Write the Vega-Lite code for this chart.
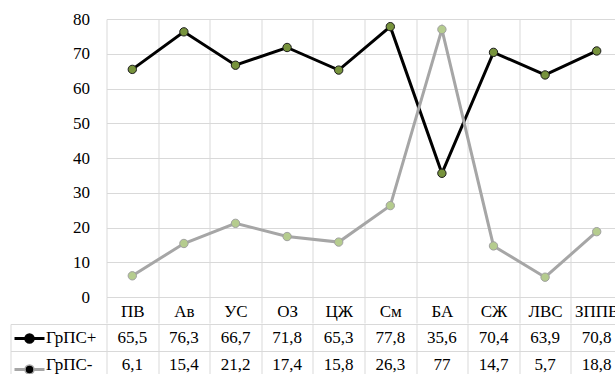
{
  "$schema": "https://vega.github.io/schema/vega-lite/v6.json",
  "padding": {"left": 9.5, "top": 10, "right": 0, "bottom": 0},
  "config": {
    "view": {"stroke": null},
    "font": "'Liberation Serif', serif",
    "locale": {"number": {"decimal": ",", "thousands": " ", "grouping": [3], "currency": ["", ""]}}
  },
  "data": {
    "values": [
      {"cat": "ПВ", "series": "ГрПС+", "value": 65.5},
      {"cat": "Ав", "series": "ГрПС+", "value": 76.3},
      {"cat": "УС", "series": "ГрПС+", "value": 66.7},
      {"cat": "ОЗ", "series": "ГрПС+", "value": 71.8},
      {"cat": "ЦЖ", "series": "ГрПС+", "value": 65.3},
      {"cat": "См", "series": "ГрПС+", "value": 77.8},
      {"cat": "БА", "series": "ГрПС+", "value": 35.6},
      {"cat": "СЖ", "series": "ГрПС+", "value": 70.4},
      {"cat": "ЛВС", "series": "ГрПС+", "value": 63.9},
      {"cat": "ЗППВ", "series": "ГрПС+", "value": 70.8},
      {"cat": "ПВ", "series": "ГрПС-", "value": 6.1},
      {"cat": "Ав", "series": "ГрПС-", "value": 15.4},
      {"cat": "УС", "series": "ГрПС-", "value": 21.2},
      {"cat": "ОЗ", "series": "ГрПС-", "value": 17.4},
      {"cat": "ЦЖ", "series": "ГрПС-", "value": 15.8},
      {"cat": "См", "series": "ГрПС-", "value": 26.3},
      {"cat": "БА", "series": "ГрПС-", "value": 77},
      {"cat": "СЖ", "series": "ГрПС-", "value": 14.7},
      {"cat": "ЛВС", "series": "ГрПС-", "value": 5.7},
      {"cat": "ЗППВ", "series": "ГрПС-", "value": 18.8}
    ]
  },
  "spacing": -10,
  "resolve": {
    "scale": {"color": "independent", "stroke": "independent", "fill": "independent"},
    "legend": {"color": "independent", "stroke": "independent", "fill": "independent"}
  },
  "vconcat": [
    {
      "width": 516,
      "height": 278,
      "encoding": {
        "x": {
          "field": "cat", "type": "nominal",
          "sort": ["ПВ", "Ав", "УС", "ОЗ", "ЦЖ", "См", "БА", "СЖ", "ЛВС", "ЗППВ"],
          "bandPosition": 0.5,
          "scale": {"type": "band", "paddingInner": 0, "paddingOuter": 0},
          "axis": {
            "title": null, "grid": true, "gridColor": "#d9d9d9", "gridWidth": 1,
            "tickBand": "extent", "ticks": true, "tickSize": 26, "tickColor": "#d9d9d9",
            "domain": false, "labelAngle": 0, "labelFont": "'Liberation Serif', serif",
            "labelFontSize": 17, "labelColor": "#000000", "labelBaseline": "middle",
            "labelPadding": -12
          }
        },
        "y": {
          "field": "value", "type": "quantitative",
          "scale": {"domain": [0, 80], "nice": false},
          "axis": {
            "title": null, "values": [0, 10, 20, 30, 40, 50, 60, 70, 80],
            "grid": true, "gridColor": "#d9d9d9", "domain": false, "ticks": false,
            "labelPadding": 17, "labelFlush": false, "labelFont": "'Liberation Serif', serif",
            "labelFontSize": 17, "labelColor": "#000000"
          }
        }
      },
      "layer": [
        {
          "mark": {"type": "line", "strokeWidth": 3},
          "encoding": {
            "color": {
              "field": "series", "type": "nominal",
              "scale": {"domain": ["ГрПС+", "ГрПС-"], "range": ["#000000", "#a6a6a6"]},
              "legend": null
            }
          }
        },
        {
          "mark": {"type": "point", "filled": true, "size": 70, "strokeWidth": 1, "opacity": 1},
          "encoding": {
            "fill": {
              "field": "series", "type": "nominal",
              "scale": {"domain": ["ГрПС+", "ГрПС-"], "range": ["#77933c", "#b5cc8e"]},
              "legend": null
            },
            "stroke": {
              "field": "series", "type": "nominal",
              "scale": {"domain": ["ГрПС+", "ГрПС-"], "range": ["#1a1a1a", "#a0a0a0"]},
              "legend": null
            }
          }
        }
      ]
    },
    {
      "width": 516,
      "height": 54,
      "mark": {"type": "text", "fontSize": 17, "font": "'Liberation Serif', serif", "baseline": "middle", "color": "#000000", "strokeWidth": 0},
      "encoding": {
        "x": {
          "field": "cat", "type": "nominal",
          "sort": ["ПВ", "Ав", "УС", "ОЗ", "ЦЖ", "См", "БА", "СЖ", "ЛВС", "ЗППВ"],
          "bandPosition": 0.5,
          "scale": {"type": "band", "paddingInner": 0, "paddingOuter": 0},
          "axis": {
            "title": null, "grid": true, "gridColor": "#d9d9d9", "tickBand": "extent",
            "labels": false, "ticks": false, "domain": false
          }
        },
        "y": {
          "field": "series", "type": "nominal",
          "sort": ["ГрПС+", "ГрПС-"],
          "bandPosition": 0.5,
          "scale": {"type": "band", "paddingInner": 0, "paddingOuter": 0},
          "axis": {
            "title": null, "grid": true, "gridColor": "#d9d9d9", "tickBand": "extent",
            "offset": 96, "domain": true, "domainColor": "#d9d9d9",
            "ticks": true, "tickSize": -96, "tickColor": "#d9d9d9",
            "labelAlign": "left", "labelPadding": 61, "labelBaseline": "middle",
            "labelFont": "'Liberation Serif', serif", "labelFontSize": 17, "labelColor": "#000000"
          }
        },
        "text": {"field": "value", "type": "quantitative", "format": ".1~f"},
        "stroke": {
          "field": "series", "type": "nominal",
          "scale": {"domain": ["ГрПС+", "ГрПС-"], "range": ["#000000", "#a6a6a6"]},
          "legend": {
            "orient": "none", "legendX": -83, "legendY": 8.5, "title": null,
            "padding": 0, "labelExpr": "''", "labelFontSize": 1,
            "symbolType": "M-3,-0.15H-0.9M-3,0.15H-0.9M0.9,-0.15H3M0.9,0.15H3M0.9,0A0.9,0.9,0,1,1,-0.9,0A0.9,0.9,0,1,1,0.9,0",
            "symbolSize": 100, "symbolStrokeWidth": 1.5, "rowPadding": 15,
            "direction": "vertical",
            "encode": {
              "symbols": {
                "update": {
                  "fill": {"signal": "datum.value === 'ГрПС+' ? '#77933c' : '#b5cc8e'"},
                  "stroke": {"signal": "datum.value === 'ГрПС+' ? '#000000' : '#a6a6a6'"},
                  "strokeWidth": {"value": 1.5},
                  "opacity": {"value": 1}
                }
              }
            }
          }
        }
      }
    }
  ]
}
